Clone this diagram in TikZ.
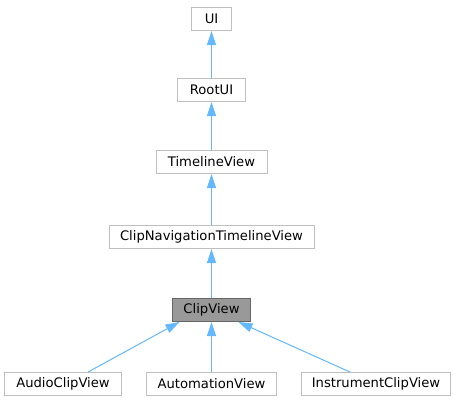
\documentclass[tikz,border=0pt]{standalone}
\usepackage{fontspec}
\setmainfont{DejaVu Sans}
\usepackage{tikz}
\usetikzlibrary{arrows.meta}

\definecolor{boxgrey}{HTML}{BFBFBF}
\definecolor{edgeblue}{HTML}{63B8FF}
\definecolor{curfill}{HTML}{999999}
\definecolor{curdraw}{HTML}{666666}

\begin{document}
\begin{tikzpicture}[x=1bp, y=-1bp, inner sep=0pt,
	cls/.style={draw=boxgrey, line width=1bp, fill=white, minimum height=23bp, font=\fontsize{13.2}{15}\selectfont},
	cur/.style={cls, draw=curdraw, fill=curfill},
	inh/.style={draw=edgeblue, line width=1bp, -{Triangle[width=9bp, length=14bp, fill=edgeblue]}}]

	\useasboundingbox (0,0) rectangle (457,403);

	\node[cls, minimum width=40bp](ui) at (211.5,19) {UI};
	\node[cls, minimum width=68bp](rootui) at (211.5,90) {RootUI};
	\node[cls, minimum width=111bp](timeline) at (211.5,162) {TimelineView};
	\node[cls, minimum width=205bp](clipnav) at (211.5,237) {ClipNavigationTimelineView};
	\node[cur, minimum width=78bp](clipview) at (211.5,310) {ClipView};

	\node[cls, minimum width=116bp](audio) at (63,384) {AudioClipView};
	\node[cls, minimum width=130bp](automation) at (211.5,384) {AutomationView};
	\node[cls, minimum width=149bp](instrument) at (376,384) {InstrumentClipView};

	% Vererbung
	\draw[inh](rootui.north) -- (ui.south);
	\draw[inh](timeline.north) -- (rootui.south);
	\draw[inh](clipnav.north) -- (timeline.south);
	\draw[inh](clipview.north) -- (clipnav.south);

	\draw[inh]([xshift=25bp]audio.north) -- ([xshift=-32bp]clipview.south);
	\draw[inh](automation.north) -- (clipview.south);
	\draw[inh]([xshift=-26bp]instrument.north) -- ([xshift=27bp]clipview.south);

\end{tikzpicture}
\end{document}
